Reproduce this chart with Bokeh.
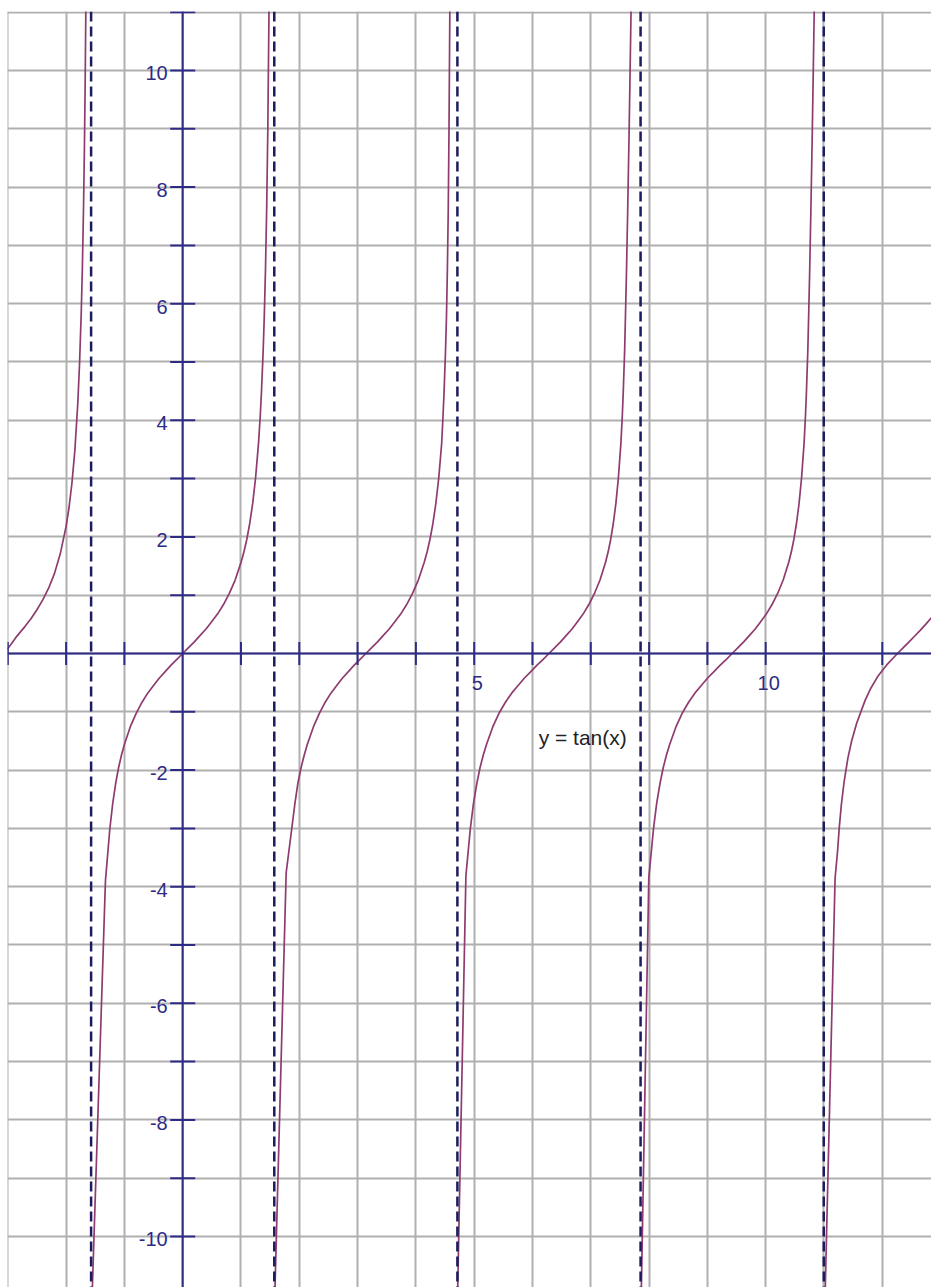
from bokeh.plotting import figure
from bokeh.models import Span, FixedTicker, Range1d
from bokeh.core.properties import value
from bokeh.embed import file_html
from bokeh.resources import INLINE
import math

# ---- values ----
# branches of y = tan(x): (x, y) points
branch_a_x = [-3.02, -2.95, -2.9, -2.85, -2.8, -2.7, -2.6, -2.5, -2.4, -2.3, -2.2, -2.1, -2.0,
              -1.95, -1.9, -1.85, -1.8, -1.77, -1.74, -1.72, -1.70, -1.685, -1.672, -1.66, -1.652]
branch_a_y = [0.06, 0.15, 0.22, 0.29, 0.35, 0.47, 0.60, 0.75, 0.92, 1.12, 1.37, 1.71, 2.18,
              2.50, 2.92, 3.48, 4.28, 4.95, 5.85, 6.65, 7.70, 8.72, 9.85, 11.18, 12.3]

branch_b_x = [-1.563, -1.325, -1.3, -1.25, -1.2, -1.15, -1.1, -1.05, -1.0, -0.9, -0.8, -0.7, -0.6,
              -0.5, -0.4, -0.3, -0.2, -0.1, 0.0, 0.1, 0.2, 0.3, 0.4, 0.5, 0.6, 0.7, 0.8, 0.9, 1.0,
              1.05, 1.1, 1.15, 1.2, 1.25, 1.3, 1.33, 1.35, 1.38, 1.40, 1.42, 1.44, 1.46, 1.48, 1.49]
branch_b_y = [-11.3, -3.9, -3.60, -3.01, -2.57, -2.23, -1.96, -1.74, -1.56, -1.26, -1.03, -0.84, -0.68,
              -0.55, -0.42, -0.31, -0.20, -0.10, 0.0, 0.10, 0.20, 0.31, 0.42, 0.55, 0.68, 0.84, 1.03, 1.26, 1.56,
              1.74, 1.96, 2.23, 2.57, 3.01, 3.60, 4.07, 4.46, 5.18, 5.80, 6.58, 7.60, 8.98, 10.99, 12.35]

branch_c_x = [1.572, 1.775, 1.87, 1.925, 1.975, 2.03, 2.085, 2.137, 2.242, 2.342, 2.442, 2.542, 2.642,
              2.742, 2.842, 2.942, 3.042, 3.142, 3.242, 3.342, 3.442, 3.542, 3.642, 3.742, 3.842, 3.942,
              4.042, 4.142, 4.192, 4.242, 4.292, 4.342, 4.392, 4.442, 4.465, 4.482, 4.508, 4.525, 4.54,
              4.555, 4.568, 4.582, 4.59]
branch_c_y = [-11.3, -3.76, -3.01, -2.57, -2.23, -1.96, -1.74, -1.56, -1.26, -1.03, -0.84, -0.68, -0.55,
              -0.42, -0.31, -0.20, -0.10, 0.0, 0.10, 0.20, 0.31, 0.42, 0.55, 0.68, 0.84, 1.03,
              1.26, 1.56, 1.74, 1.96, 2.23, 2.57, 3.01, 3.60, 4.07, 4.46, 5.18, 5.80, 6.58,
              7.60, 8.98, 10.99, 12.35]

branch_d_x = [4.709, 4.858, 4.933, 4.988, 5.045, 5.100, 5.156, 5.211, 5.318, 5.423, 5.533, 5.643, 5.753,
              5.863, 5.971, 6.078, 6.183, 6.283, 6.383, 6.481, 6.580, 6.678, 6.775, 6.871, 6.967, 7.063,
              7.158, 7.252, 7.297, 7.342, 7.386, 7.430, 7.473, 7.516, 7.540, 7.556, 7.580, 7.595, 7.613,
              7.633, 7.658, 7.690, 7.700]
branch_d_y = [-11.3, -3.81, -3.01, -2.57, -2.23, -1.96, -1.74, -1.56, -1.26, -1.03, -0.84, -0.68, -0.55,
              -0.42, -0.31, -0.20, -0.10, 0.0, 0.10, 0.20, 0.31, 0.42, 0.55, 0.68, 0.84, 1.03,
              1.26, 1.56, 1.74, 1.96, 2.23, 2.57, 3.01, 3.60, 4.07, 4.46, 5.18, 5.80, 6.58,
              7.60, 8.98, 10.99, 12.35]

branch_e_x = [7.86, 7.995, 8.075, 8.130, 8.187, 8.242, 8.298, 8.353, 8.460, 8.565, 8.675, 8.785, 8.895,
              9.005, 9.113, 9.220, 9.325, 9.425, 9.525, 9.623, 9.722, 9.820, 9.917, 10.013, 10.109, 10.205,
              10.300, 10.394, 10.439, 10.484, 10.528, 10.572, 10.615, 10.658, 10.682, 10.698, 10.722, 10.737,
              10.755, 10.775, 10.800, 10.832, 10.842]
branch_e_y = [-11.3, -3.85, -3.01, -2.57, -2.23, -1.96, -1.74, -1.56, -1.26, -1.03, -0.84, -0.68, -0.55,
              -0.42, -0.31, -0.20, -0.10, 0.0, 0.10, 0.20, 0.31, 0.42, 0.55, 0.68, 0.84, 1.03,
              1.26, 1.56, 1.74, 1.96, 2.23, 2.57, 3.01, 3.60, 4.07, 4.46, 5.18, 5.80,
              6.58, 7.60, 8.98, 10.99, 12.35]

branch_f_x = [11.012, 11.19, 11.232, 11.261, 11.297, 11.345, 11.409, 11.474, 11.559, 11.640, 11.707,
              11.801, 11.918, 12.072, 12.26, 12.360, 12.459, 12.557, 12.654, 12.744, 12.830, 12.910, 12.945]
branch_f_y = [-11.3, -3.86, -3.4, -3.0, -2.6, -2.2, -1.8, -1.5, -1.2, -0.98, -0.8,
              -0.6, -0.4, -0.2, 0.0, 0.1, 0.2, 0.3, 0.4, 0.5, 0.6, 0.7, 0.75]

asymptotes = [-1.571, 1.571, 4.712, 7.854, 10.996]

x_ticks = [-3, -2, -1, 1, 2, 3, 4, 5, 6, 7, 8, 9, 10, 11, 12]
y_ticks = [-10, -9, -8, -7, -6, -5, -4, -3, -2, -1, 1, 2, 3, 4, 5, 6, 7, 8, 9, 10, 11]
x_grid = list(range(-3, 13))
y_grid = list(range(-10, 12))

x_label_vals = [5, 10]
x_label_text = ["5", "10"]
y_label_vals = [-10, -8, -6, -4, -2, 2, 4, 6, 8, 10]
y_label_text = ["-10", "-8", "-6", "-4", "-2", "2", "4", "6", "8", "10"]

func_label = "y = tan(x)"

# ---- styling ----
NAVY = "#2e2b85"
DASH_NAVY = "#1c1c5e"
CURVE = "#8e3b6f"
GRID = "#b0b0b0"
FONT = value("Liberation Sans")

PX = 58.3  # pixels per unit
W, H = 931, 1287
LEFT, TOP = 7, 11
x0 = -3.005
y1 = 11.012

p = figure(width=W, height=H,
           x_range=Range1d(x0, x0 + (W - LEFT) / PX),
           y_range=Range1d(y1 - (H - TOP) / PX, y1),
           output_backend="svg", toolbar_location=None,
           x_axis_location=None, y_axis_location=None,
           min_border_left=LEFT, min_border_right=0,
           min_border_top=TOP, min_border_bottom=0,
           outline_line_color=None,
           background_fill_color="white", border_fill_color="white")

p.xgrid.ticker = FixedTicker(ticks=x_grid)
p.ygrid.ticker = FixedTicker(ticks=y_grid)
for g in (p.xgrid, p.ygrid):
    g.grid_line_color = GRID
    g.grid_line_width = 2

# asymptotes
for a in asymptotes:
    p.add_layout(Span(location=a, dimension="height", line_color=DASH_NAVY,
                      line_width=2.5, line_dash="10 5", level="glyph"))

# curves
for bx, by in [(branch_a_x, branch_a_y), (branch_b_x, branch_b_y), (branch_c_x, branch_c_y),
               (branch_d_x, branch_d_y), (branch_e_x, branch_e_y), (branch_f_x, branch_f_y)]:
    p.line(bx, by, line_color=CURVE, line_width=1.7, line_join="round")

# axes
p.add_layout(Span(location=0, dimension="width", line_color=NAVY, line_width=2))
p.add_layout(Span(location=0, dimension="height", line_color=NAVY, line_width=2))

# tick marks
p.scatter(x=x_ticks, y=[0] * len(x_ticks), marker="dash", size=23, angle=math.pi / 2,
          line_color=NAVY, line_width=2)
p.scatter(x=[0] * len(y_ticks), y=y_ticks, marker="dash", size=25,
          line_color=NAVY, line_width=2)

# tick labels
p.text(x=x_label_vals, y=[0] * len(x_label_vals), text=x_label_text,
       x_offset=3, y_offset=30, text_align="center", text_baseline="alphabetic",
       text_font=FONT, text_font_size="20px", text_color=NAVY)
p.text(x=[0] * len(y_label_vals), y=y_label_vals, text=y_label_text,
       x_offset=-15, y_offset=3, text_align="right", text_baseline="alphabetic",
       text_font=FONT, text_font_size="20px", text_color=NAVY)

# function label
p.text(x=[6.106], y=[-1.54], text=[func_label], text_align="left", y_offset=-6,
       text_baseline="alphabetic", text_font=FONT, text_font_size="21px",
       text_color="#222222")

open("out.html", "w").write(file_html(p, INLINE, "y = tan(x)"))
